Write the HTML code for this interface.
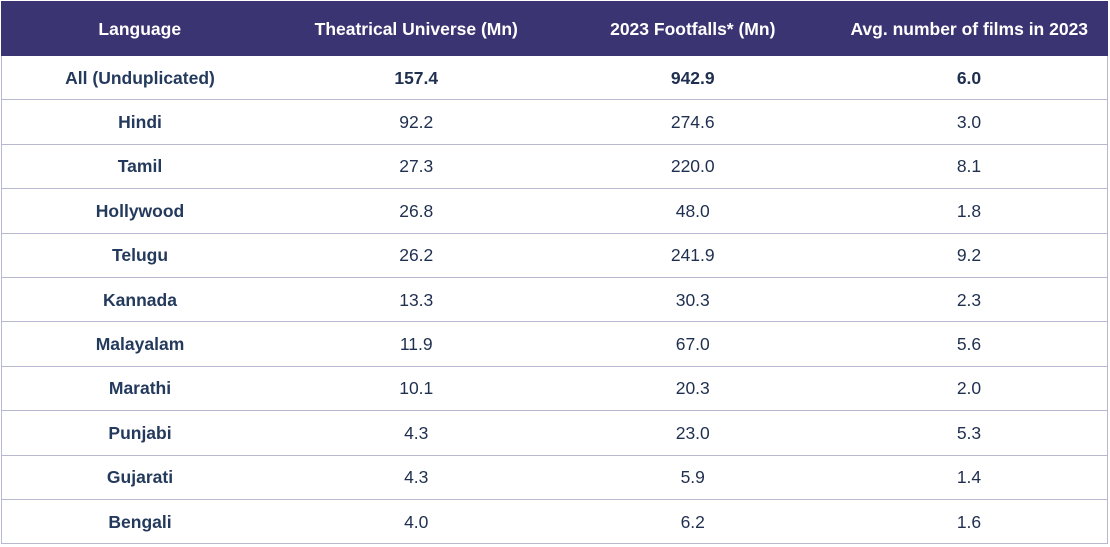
<!DOCTYPE html>
<html><head><style>
body{margin:0;background:#fff;width:1110px;height:547px;overflow:hidden}
table{position:absolute;left:1px;top:1px;width:1107px;border-collapse:collapse;font-family:"Liberation Sans",sans-serif;font-size:17.5px;table-layout:fixed}
th{background:#3b3472;color:#fff;font-weight:bold;height:53px;padding:0;line-height:20px;text-align:center;border:1px solid #3b3472;font-size:17.5px}
td{height:43.4px;padding:0;line-height:20px;text-align:center;color:#1f2f4f;border:1px solid #b8b8d0;border-left:none;border-right:none}
tr td:first-child{border-left:1px solid #b8b8d0;font-weight:bold;color:#243a5c}
tr td:last-child{border-right:1px solid #b8b8d0}
tr.b td{font-weight:bold}
</style></head><body>
<table>
<tr><th>Language</th><th>Theatrical Universe (Mn)</th><th>2023 Footfalls* (Mn)</th><th>Avg. number of films in 2023</th></tr>
<tr class="b"><td>All (Unduplicated)</td><td>157.4</td><td>942.9</td><td>6.0</td></tr>
<tr><td>Hindi</td><td>92.2</td><td>274.6</td><td>3.0</td></tr>
<tr><td>Tamil</td><td>27.3</td><td>220.0</td><td>8.1</td></tr>
<tr><td>Hollywood</td><td>26.8</td><td>48.0</td><td>1.8</td></tr>
<tr><td>Telugu</td><td>26.2</td><td>241.9</td><td>9.2</td></tr>
<tr><td>Kannada</td><td>13.3</td><td>30.3</td><td>2.3</td></tr>
<tr><td>Malayalam</td><td>11.9</td><td>67.0</td><td>5.6</td></tr>
<tr><td>Marathi</td><td>10.1</td><td>20.3</td><td>2.0</td></tr>
<tr><td>Punjabi</td><td>4.3</td><td>23.0</td><td>5.3</td></tr>
<tr><td>Gujarati</td><td>4.3</td><td>5.9</td><td>1.4</td></tr>
<tr><td>Bengali</td><td>4.0</td><td>6.2</td><td>1.6</td></tr>
</table>
</body></html>
